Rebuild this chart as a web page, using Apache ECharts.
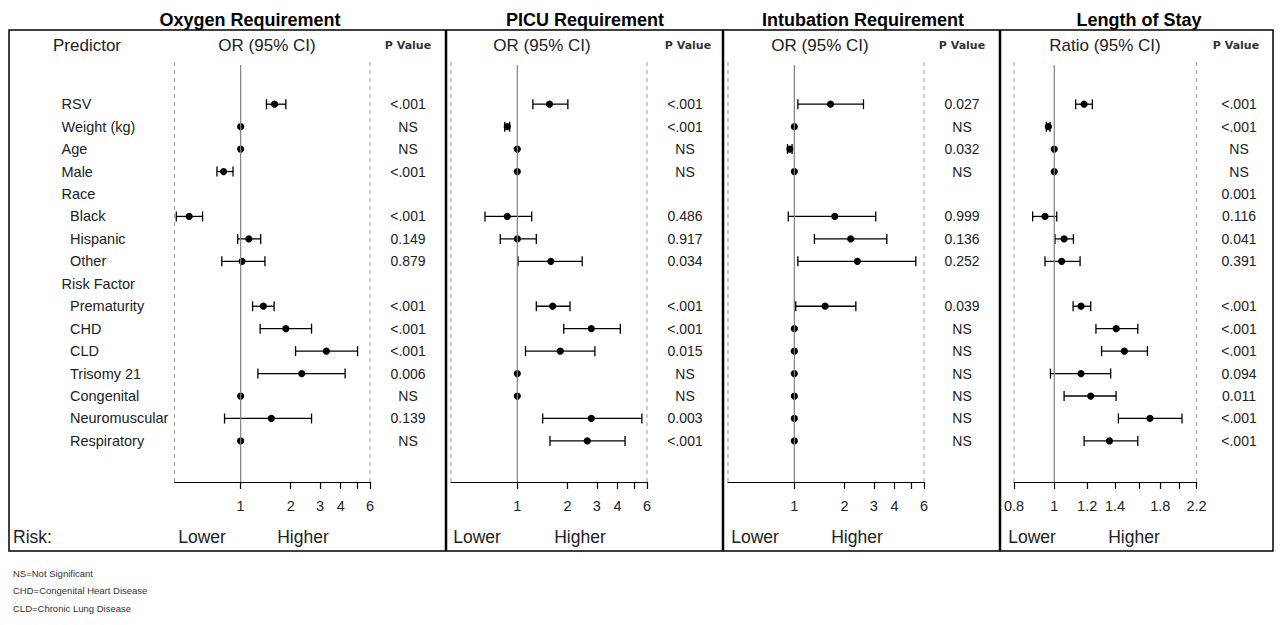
<!DOCTYPE html>
<html><head><meta charset="utf-8">
<script src="https://cdn.jsdelivr.net/npm/echarts@6/dist/echarts.min.js"></script>
<style>html,body{margin:0;padding:0;background:#fff}#c{width:1282px;height:625px}</style>
</head><body><div id="c"></div><script>
// ---------------- DATA ----------------
const predictors = ['RSV','Weight (kg)','Age','Male','Race','Black','Hispanic','Other','Risk Factor','Prematurity','CHD','CLD','Trisomy 21','Congenital','Neuromuscular','Respiratory'];
const indented   = [0,0,0,0,0,1,1,1,0,1,1,1,1,1,1,1];
const panelTitles = ['Oxygen Requirement','PICU Requirement','Intubation Requirement','Length of Stay'];
const estHeaders  = ['OR (95% CI)','OR (95% CI)','OR (95% CI)','Ratio (95% CI)'];

const oxyEst  = [1.60, 1.00, 1.00, 0.79, null, 0.49, 1.12, 1.02, null, 1.37, 1.87, 3.28, 2.33, 1.00, 1.53, 1.00];
const oxyLow  = [1.43, null, null, 0.72, null, 0.41, 0.96, 0.77, null, 1.18, 1.31, 2.14, 1.27, null, 0.80, null];
const oxyHigh = [1.87, null, null, 0.90, null, 0.59, 1.32, 1.40, null, 1.59, 2.67, 5.05, 4.25, null, 2.67, null];
const oxyP    = ['<.001','NS','NS','<.001','','<.001','0.149','0.879','','<.001','<.001','<.001','0.006','NS','0.139','NS'];

const picuEst  = [1.56, 0.87, 1.00, 1.00, null, 0.87, 1.00, 1.59, null, 1.63, 2.78, 1.81, 1.00, 1.00, 2.78, 2.63];
const picuLow  = [1.24, 0.84, null, null, null, 0.64, 0.79, 1.01, null, 1.30, 1.90, 1.12, null, null, 1.42, 1.57];
const picuHigh = [2.01, 0.90, null, null, null, 1.22, 1.30, 2.45, null, 2.07, 4.15, 2.92, null, null, 5.59, 4.43];
const picuP    = ['<.001','<.001','NS','NS','','0.486','0.917','0.034','','<.001','<.001','0.015','NS','NS','0.003','<.001'];

const intubEst  = [1.65, 1.00, 0.94, 1.00, null, 1.75, 2.18, 2.39, null, 1.53, 1.00, 1.00, 1.00, 1.00, 1.00, 1.00];
const intubLow  = [1.05, null, 0.91, null, null, 0.92, 1.32, 1.05, null, 1.02, null, null, null, null, null, null];
const intubHigh = [2.60, null, 0.97, null, null, 3.08, 3.59, 5.36, null, 2.34, null, null, null, null, null, null];
const intubP    = ['0.027','NS','0.032','NS','','0.999','0.136','0.252','','0.039','NS','NS','NS','NS','NS','NS'];

const losEst  = [1.18, 0.968, 1.00, 1.00, null, 0.95, 1.056, 1.042, null, 1.16, 1.41, 1.475, 1.16, 1.224, 1.70, 1.358];
const losLow  = [1.126, 0.957, null, null, null, 0.887, 1.004, 0.95, null, 1.11, 1.26, 1.30, 0.979, 1.056, 1.427, 1.18];
const losHigh = [1.235, 0.977, null, null, null, 1.014, 1.112, 1.154, null, 1.224, 1.589, 1.676, 1.367, 1.409, 2.03, 1.589];
const losP    = ['<.001','<.001','NS','NS','0.001','0.116','0.041','0.391','','<.001','<.001','<.001','0.094','0.011','<.001','<.001'];

const oddsRange = [0.4, 6];
const oddsTicks = [1, 2, 3, 4, 5, 6];
const oddsTickLabels = [1, 2, 3, 4, 6];
const losRange = [0.8, 2.2];
const losTicks = [0.8, 1, 1.2, 1.4, 1.6, 1.8, 2.0, 2.2];
const losTickLabels = [0.8, 1, 1.2, 1.4, 1.8, 2.2];
const footnotes = ['NS=Not Significant','CHD=Congenital Heart Disease','CLD=Chronic Lung Disease'];

// ---------------- LAYOUT ----------------
const L = v => Math.log10(v);
const FONT = '"Liberation Sans", Arial, sans-serif';
const TXT = '#222';
const rowMin = -1.88, rowMax = 16.83, refStart = -1.75;
const panels = [
  {est: oxyEst, low: oxyLow, high: oxyHigh, p: oxyP, range: oddsRange, ticks: oddsTicks, labels: oddsTickLabels,
   left: 174.5, width: 195.5, pX: 408, headX: 267, pHeadX: 408, titleX: 250, lowerX: 202, higherX: 303},
  {est: picuEst, low: picuLow, high: picuHigh, p: picuP, range: oddsRange, ticks: oddsTicks, labels: oddsTickLabels,
   left: 451, width: 196, pX: 685, headX: 542, pHeadX: 688, titleX: 585, lowerX: 477, higherX: 580},
  {est: intubEst, low: intubLow, high: intubHigh, p: intubP, range: oddsRange, ticks: oddsTicks, labels: oddsTickLabels,
   left: 728, width: 196, pX: 962, headX: 820, pHeadX: 962, titleX: 863, lowerX: 755, higherX: 857},
  {est: losEst, low: losLow, high: losHigh, p: losP, range: losRange, ticks: losTicks, labels: losTickLabels,
   left: 1014, width: 182.5, pX: 1239, headX: 1105, pHeadX: 1236, titleX: 1139, lowerX: 1032, higherX: 1134}
];

const grid = [], xAxis = [], yAxis = [], series = [];
const fmt = v => String(Math.round(Math.pow(10, v) * 10) / 10);

panels.forEach((pn, k) => {
  grid.push({left: pn.left, width: pn.width, top: 62, height: 420});
  const xmin = L(pn.range[0]), xmax = L(pn.range[1]);
  xAxis.push({
    type: 'value', gridIndex: k, min: xmin, max: xmax, position: 'bottom',
    axisLine: {show: true, onZero: false, lineStyle: {color: '#000', width: 1.2}},
    axisTick: {show: true, length: 7, lineStyle: {color: '#000', width: 1.2}, customValues: pn.ticks.map(L)},
    axisLabel: {show: true, margin: 16, color: TXT, fontSize: 14.5, fontFamily: FONT,
                customValues: pn.labels.map(L), formatter: fmt},
    splitLine: {show: false}
  });
  yAxis.push({type: 'value', gridIndex: k, min: rowMin, max: rowMax, inverse: true, show: false});

  // dashed boundaries
  [xmin, xmax].forEach(xv => series.push({
    type: 'line', xAxisIndex: k, yAxisIndex: k, symbol: 'none', silent: true, clip: false,
    data: [[xv, rowMin], [xv, rowMax]],
    lineStyle: {color: '#9a9a9a', width: 1, type: [4, 4]}
  }));
  // reference line at 1
  series.push({
    type: 'line', xAxisIndex: k, yAxisIndex: k, symbol: 'none', silent: true,
    data: [[L(1), refStart], [L(1), rowMax]],
    lineStyle: {color: '#808080', width: 1.2}
  });
  // estimates with CI
  const pts = [];
  pn.est.forEach((e, i) => {
    if (e == null) return;
    const has = pn.low[i] != null;
    pts.push([i, L(e), has ? L(pn.low[i]) : L(e), has ? L(pn.high[i]) : L(e), has ? 1 : 0]);
  });
  series.push({
    type: 'custom', xAxisIndex: k, yAxisIndex: k, silent: true,
    encode: {y: 0, x: [1, 2, 3]},
    data: pts,
    renderItem: (params, api) => {
      const row = api.value(0);
      const pe = api.coord([api.value(1), row]);
      const children = [];
      if (api.value(4) === 1) {
        const pl = api.coord([api.value(2), row]);
        const ph = api.coord([api.value(3), row]);
        const ls = {stroke: '#000', lineWidth: 1.3};
        children.push({type: 'line', shape: {x1: pl[0], y1: pl[1], x2: ph[0], y2: ph[1]}, style: ls});
        children.push({type: 'line', shape: {x1: pl[0], y1: pl[1] - 5, x2: pl[0], y2: pl[1] + 5}, style: ls});
        children.push({type: 'line', shape: {x1: ph[0], y1: ph[1] - 5, x2: ph[0], y2: ph[1] + 5}, style: ls});
      }
      children.push({type: 'circle', shape: {cx: pe[0], cy: pe[1], r: 3.6}, style: {fill: '#000'}});
      return {type: 'group', children};
    }
  });
  // p values
  const pText = pn.p;
  series.push({
    type: 'custom', xAxisIndex: k, yAxisIndex: k, silent: true, clip: false,
    encode: {x: 0, y: 1},
    data: pText.map((t, i) => [0, i]),
    renderItem: (params, api) => {
      const y = api.coord([0, api.value(1)])[1];
      return {type: 'text', x: pn.pX, y: y,
        style: {text: pText[params.dataIndex], fill: TXT, font: '14px ' + FONT,
                align: 'center', verticalAlign: 'middle', textAlign: 'center', textVerticalAlign: 'middle'}};
    }
  });
});

// predictor labels
series.push({
  type: 'custom', xAxisIndex: 0, yAxisIndex: 0, silent: true, clip: false,
  encode: {x: 0, y: 1},
  data: predictors.map((t, i) => [0, i]),
  renderItem: (params, api) => {
    const i = params.dataIndex;
    const y = api.coord([0, api.value(1)])[1];
    return {type: 'text', x: indented[i] ? 70 : 61.5, y: y,
      style: {text: predictors[i], fill: TXT, font: '14.5px ' + FONT,
              align: 'left', verticalAlign: 'middle', textAlign: 'left', textVerticalAlign: 'middle'}};
  }
});

// ---------------- GRAPHIC TEXT & FRAME ----------------
const txt = (text, x, y, font, align, color) => ({
  type: 'text', x, y, silent: true,
  style: {text, font, fill: color || TXT, align: align || 'center', verticalAlign: 'middle',
          textAlign: align || 'center', textVerticalAlign: 'middle'}
});
const graphic = [];
graphic.push({type: 'rect', shape: {x: 9, y: 30, width: 1264, height: 521},
  style: {fill: 'none', stroke: '#000', lineWidth: 1.5}, silent: true});
[446, 723, 1000].forEach(x => graphic.push({type: 'line', shape: {x1: x, y1: 30, x2: x, y2: 551},
  style: {stroke: '#000', lineWidth: 2.5}, silent: true}));
graphic.push(txt('Predictor', 87, 45, '17px ' + FONT));
graphic.push(txt('Risk:', 13, 537, '17.5px ' + FONT, 'left'));
panels.forEach((pn, k) => {
  graphic.push(txt(panelTitles[k], pn.titleX, 20, 'bold 18px ' + FONT, 'center', '#000'));
  graphic.push(txt(estHeaders[k], pn.headX, 45, '17px ' + FONT));
  graphic.push(txt('P Value', pn.pHeadX, 45, 'bold 11px "DejaVu Sans", sans-serif', 'center', '#333'));
  graphic.push(txt('Lower', pn.lowerX, 537, '17.5px ' + FONT));
  graphic.push(txt('Higher', pn.higherX, 537, '17.5px ' + FONT));
});
footnotes.forEach((t, i) => graphic.push(txt(t, 13, [573, 590, 608][i], '9.5px ' + FONT, 'left', '#333')));

const chart = echarts.init(document.getElementById('c'), null, {renderer: 'svg'});
chart.setOption({animation: false, backgroundColor: '#fff', grid, xAxis, yAxis, series, graphic});
</script></body></html>
